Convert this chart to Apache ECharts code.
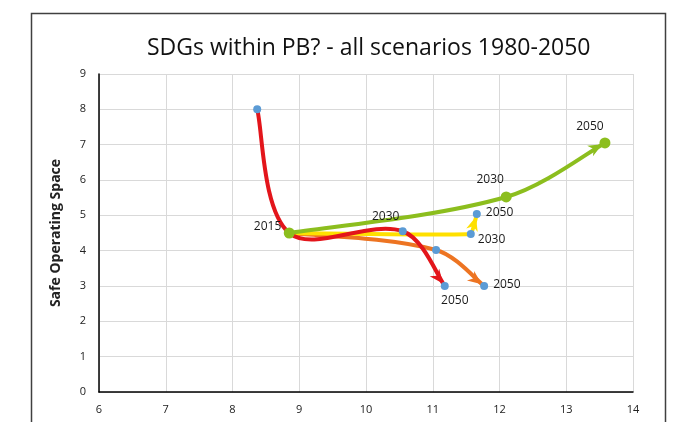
<!DOCTYPE html>
<html>
<head>
<meta charset="utf-8">
<script src="https://cdn.jsdelivr.net/npm/echarts@6/dist/echarts.min.js"></script>
<style>
  html, body { margin: 0; padding: 0; background: #fff; }
  #chart { width: 677px; height: 422px; }
</style>
</head>
<body>
<div id="chart"></div>
<script>
// scenario paths: x = SDG score, y = safe operating space
const redX = [8.37, 8.85, 10.55, 11.18]
const redY = [8.0, 4.5, 4.55, 3.0]
const redLabels = ['', '2015', '2030', '2050']

const orangeX = [8.85, 11.05, 11.77]
const orangeY = [4.5, 4.02, 3.0]
const orangeLabels = ['', '', '2050']

const yellowX = [8.85, 11.57, 11.66]
const yellowY = [4.5, 4.47, 5.04]
const yellowLabels = ['', '2030', '2050']

const greenX = [8.85, 12.1, 13.58]
const greenY = [4.5, 5.52, 7.05]
const greenLabels = ['', '2030', '2050']

const xTicks = [6, 7, 8, 9, 10, 11, 12, 13, 14]
const yTicks = [0, 1, 2, 3, 4, 5, 6, 7, 8, 9]

const FONT = '"Open Sans", "Noto Sans", sans-serif'
const BLUE = '#5b9bd5'
const RED = '#e3151b'
const ORANGE = '#ed7422'
const YELLOW = '#ffe000'
const GREEN = '#8cbe1e'

// label placement per point (style, kept out of the data arrays)
const labelPos = {
  red: [null, { position: 'left', offset: [-3, -6] }, { position: 'top', offset: [-17, 0] }, { position: 'bottom', offset: [10, 0] }],
  orange: [null, null, { position: 'right', offset: [0, -1] }],
  yellow: [null, { position: 'right', offset: [-2, 6] }, { position: 'right', offset: [0, -1] }],
  green: [null, { position: 'top', offset: [-16, -1] }, { position: 'top', offset: [-15, 0] }],
}

// Excel-like smoothed path (control points may overshoot) with an arrow head at the end
function buildCurve(xs, ys, color, smooth, z) {
  return {
    type: 'custom',
    z,
    silent: true,
    data: xs.map((x, i) => [x, ys[i]]),
    encode: { x: 0, y: 1 },
    renderItem(params, api) {
      if (params.dataIndex !== 0) return null
      const p = xs.map((x, i) => api.coord([x, ys[i]]))
      const n = p.length
      const dist = (a, b) => Math.hypot(a[0] - b[0], a[1] - b[1])
      // control points before / after each point
      const cpIn = [], cpOut = []
      for (let i = 0; i < n; i++) {
        if (i === 0 || i === n - 1) {
          const o = i === 0 ? p[1] : p[n - 2]
          const c = [p[i][0] + (o[0] - p[i][0]) * smooth * 0.5, p[i][1] + (o[1] - p[i][1]) * smooth * 0.5]
          cpIn[i] = c
          cpOut[i] = c
          continue
        }
        const vx = p[i + 1][0] - p[i - 1][0]
        const vy = p[i + 1][1] - p[i - 1][1]
        const lp = dist(p[i], p[i - 1]), ln = dist(p[i], p[i + 1])
        const r = ln / (lp + ln)
        cpIn[i] = [p[i][0] - vx * smooth * (1 - r), p[i][1] - vy * smooth * (1 - r)]
        cpOut[i] = [p[i][0] + vx * smooth * r, p[i][1] + vy * smooth * r]
      }
      let d = 'M' + p[0][0] + ' ' + p[0][1]
      for (let i = 1; i < n; i++) {
        d += ' C' + cpOut[i - 1].join(' ') + ' ' + cpIn[i].join(' ') + ' ' + p[i].join(' ')
      }
      // arrow along the end tangent
      const end = p[n - 1]
      const tx = end[0] - cpIn[n - 1][0]
      const ty = end[1] - cpIn[n - 1][1]
      const tl = Math.hypot(tx, ty)
      const ux = tx / tl, uy = ty / tl
      const nx = -uy, ny = ux
      const L = 14, W = 12, back = 3
      const tip = [end[0] - ux * back, end[1] - uy * back]
      const base = [tip[0] - ux * L, tip[1] - uy * L]
      const notch = [tip[0] - ux * L * 0.7, tip[1] - uy * L * 0.7]
      return {
        type: 'group',
        children: [
          {
            type: 'path',
            shape: { pathData: d },
            style: { fill: 'none', stroke: color, lineWidth: 4, lineCap: 'round', lineJoin: 'round' },
          },
          {
            type: 'polygon',
            shape: {
              points: [
                tip,
                [base[0] + nx * W / 2, base[1] + ny * W / 2],
                notch,
                [base[0] - nx * W / 2, base[1] - ny * W / 2],
              ],
            },
            style: { fill: color },
          },
        ],
      }
    },
  }
}

function buildMarkers(name, xs, ys, labels, markerColor, markerSize, skip, z) {
  return {
    name,
    type: 'scatter',
    z,
    symbol: 'circle',
    symbolSize: markerSize,
    itemStyle: { color: markerColor, opacity: 1 },
    data: xs.map((x, i) => {
      const item = { value: [x, ys[i]] }
      if (skip.includes(i)) item.symbolSize = 0
      const lp = labelPos[name][i]
      if (labels[i] && lp) {
        item.label = {
          show: true,
          formatter: labels[i],
          position: lp.position,
          offset: lp.offset,
          color: '#1a1a1a',
          fontSize: 12,
          fontFamily: FONT,
        }
      }
      return item
    }),
  }
}

const series = [
  buildCurve(orangeX, orangeY, ORANGE, 0.35, 2),
  buildCurve(yellowX, yellowY, YELLOW, 0.08, 3),
  buildCurve(redX, redY, RED, 0.35, 4),
  buildCurve(greenX, greenY, GREEN, 0.35, 5),
  buildMarkers('orange', orangeX, orangeY, orangeLabels, BLUE, 8, [0], 6),
  buildMarkers('yellow', yellowX, yellowY, yellowLabels, BLUE, 8, [0], 6),
  buildMarkers('red', redX, redY, redLabels, BLUE, 8, [1], 6),
  buildMarkers('green', greenX, greenY, greenLabels, GREEN, 11, [], 7),
]

const gridLine = { show: true, lineStyle: { color: '#d9d9d9', width: 1 } }

const option = {
  animation: false,
  backgroundColor: '#fff',
  graphic: [{
    type: 'rect',
    silent: true,
    shape: { x: 31.5, y: 13.5, width: 634, height: 430 },
    style: { fill: 'none', stroke: '#404040', lineWidth: 1.5 },
  }],
  title: {
    text: 'SDGs within PB? - all scenarios 1980-2050',
    left: 142,
    top: 32,
    textStyle: { fontFamily: FONT, fontSize: 23, fontWeight: 'normal', color: '#111' },
  },
  grid: { left: 99, right: 44, top: 74, bottom: 30 },
  xAxis: {
    type: 'value',
    min: xTicks[0], max: xTicks[xTicks.length - 1], interval: 1,
    axisLine: { show: true, onZero: false, lineStyle: { color: '#000', width: 1.5 } },
    axisTick: { show: false },
    axisLabel: { color: '#222', fontSize: 11, fontFamily: FONT, margin: 12 },
    splitLine: gridLine,
  },
  yAxis: {
    type: 'value',
    min: yTicks[0], max: yTicks[yTicks.length - 1], interval: 1,
    name: 'Safe Operating Space',
    nameLocation: 'middle',
    nameGap: 36,
    nameTextStyle: { fontFamily: FONT, fontSize: 14, fontWeight: 'bold', color: '#222' },
    axisLine: { show: true, lineStyle: { color: '#000', width: 1.5 } },
    axisTick: { show: false },
    axisLabel: { color: '#222', fontSize: 11, fontFamily: FONT, margin: 13 },
    splitLine: gridLine,
  },
  series,
}

const chart = echarts.init(document.getElementById('chart'))
chart.setOption(option)
</script>
</body>
</html>
